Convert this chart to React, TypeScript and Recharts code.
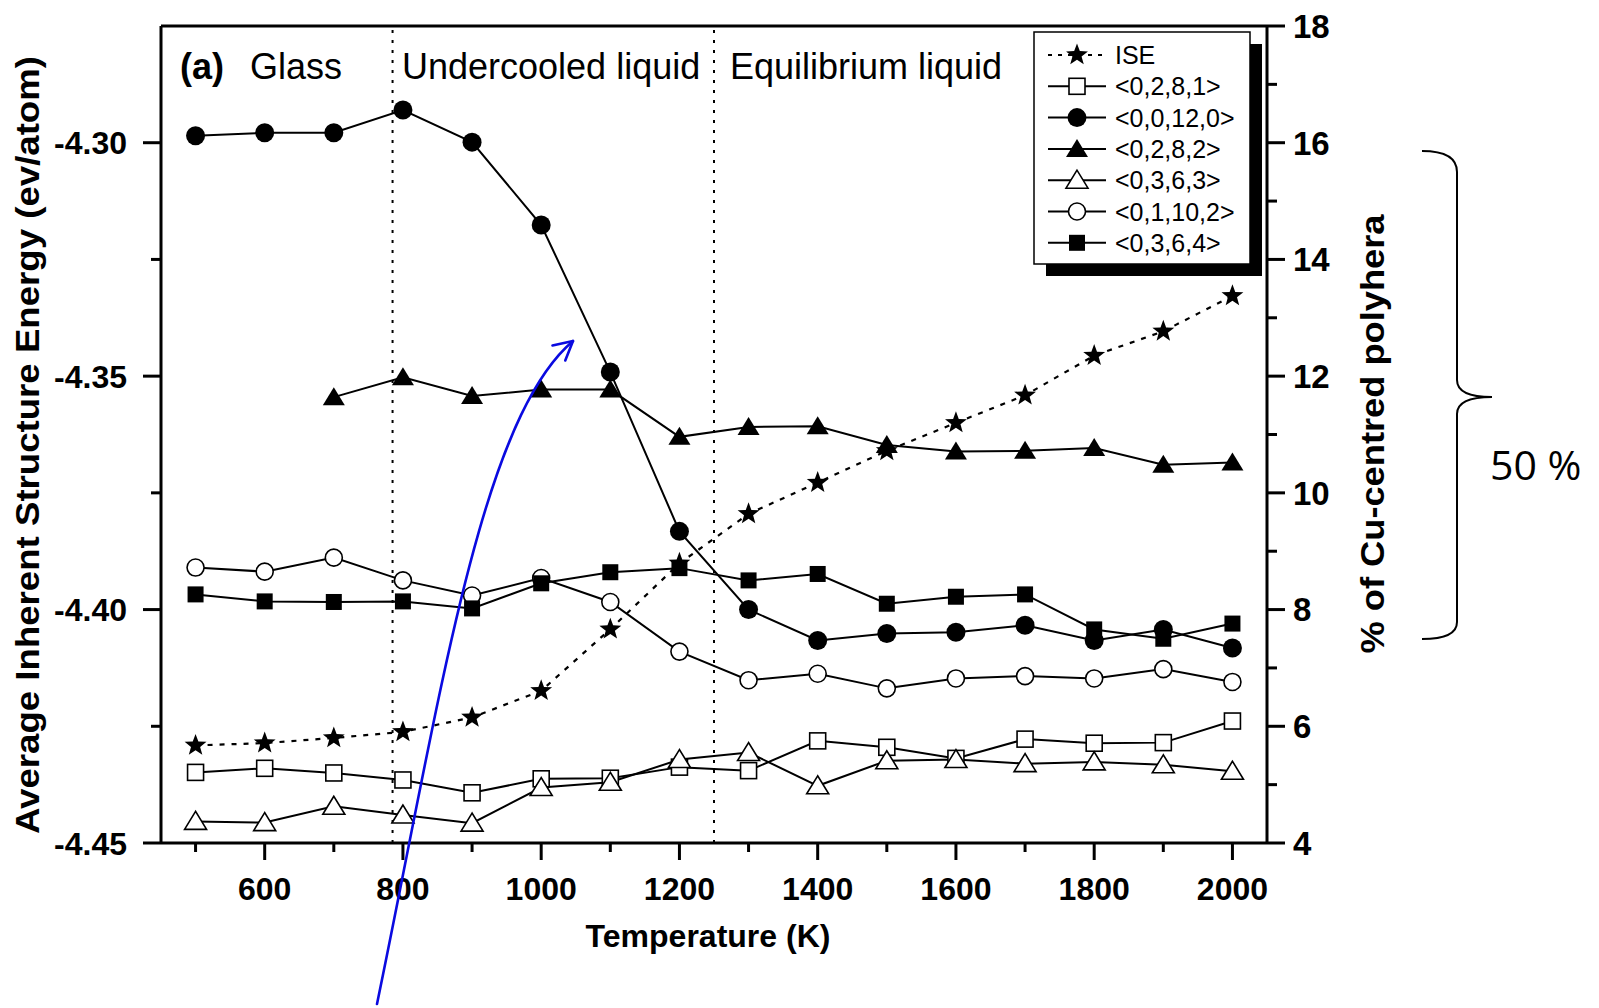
import React from 'react';
import { LineChart, Line, XAxis, YAxis, ReferenceLine } from 'recharts';

// ---- data -------------------------------------------------------------
const TEMPERATURES = [500, 600, 700, 800, 900, 1000, 1100, 1200, 1300, 1400, 1500, 1600, 1700, 1800, 1900, 2000];

// Average inherent structure energy (eV/atom), left axis
const ISE = [-4.4291, -4.4286, -4.4275, -4.4262, -4.4231, -4.4174, -4.4042, -4.3901, -4.3795, -4.3728, -4.366, -4.36, -4.3541, -4.3456, -4.3404, -4.3328];

// % of Cu-centred polyhedra, right axis
const P_0281 = [5.21, 5.28, 5.2, 5.08, 4.86, 5.1, 5.11, 5.3, 5.24, 5.75, 5.64, 5.45, 5.78, 5.71, 5.72, 6.09];
const P_00120 = [16.12, 16.17, 16.17, 16.56, 16.01, 14.59, 12.07, 9.34, 8.0, 7.47, 7.59, 7.61, 7.73, 7.47, 7.66, 7.34];
const P_0282 = [null, null, 11.64, 11.98, 11.66, 11.77, 11.77, 10.96, 11.13, 11.14, 10.82, 10.71, 10.72, 10.77, 10.48, 10.52];
const P_0363 = [4.37, 4.35, 4.63, 4.48, 4.34, 4.95, 5.04, 5.43, 5.55, 4.98, 5.41, 5.43, 5.36, 5.39, 5.34, 5.23];
const P_01102 = [8.72, 8.65, 8.89, 8.5, 8.24, 8.54, 8.13, 7.28, 6.79, 6.9, 6.65, 6.82, 6.86, 6.82, 6.98, 6.76];
const P_0364 = [8.26, 8.14, 8.13, 8.14, 8.02, 8.45, 8.64, 8.71, 8.5, 8.61, 8.1, 8.22, 8.26, 7.66, 7.5, 7.76];

// regime boundaries (K)
const GLASS_END = 785;
const LIQUID_START = 1250;

// axes
const X_DOMAIN: [number, number] = [450, 2050];
const X_TICKS = [500, 600, 700, 800, 900, 1000, 1100, 1200, 1300, 1400, 1500, 1600, 1700, 1800, 1900, 2000];
const X_LABELS = ['', '600', '', '800', '', '1000', '', '1200', '', '1400', '', '1600', '', '1800', '', '2000'];
const LEFT_DOMAIN: [number, number] = [-4.45, -4.275];
const LEFT_TICKS = [-4.45, -4.425, -4.4, -4.375, -4.35, -4.325, -4.3];
const LEFT_LABELS = ['-4.45', '', '-4.40', '', '-4.35', '', '-4.30'];
const RIGHT_DOMAIN: [number, number] = [4, 18];
const RIGHT_TICKS = [4, 5, 6, 7, 8, 9, 10, 11, 12, 13, 14, 15, 16, 17, 18];
const RIGHT_LABELS = ['4', '', '6', '', '8', '', '10', '', '12', '', '14', '', '16', '', '18'];

const SERIES = [
  { key: 'ise', name: 'ISE', marker: 'star', axis: 'l', dashed: true, values: ISE },
  { key: 'p0281', name: '<0,2,8,1>', marker: 'squareOpen', axis: 'r', dashed: false, values: P_0281 },
  { key: 'p00120', name: '<0,0,12,0>', marker: 'circleFilled', axis: 'r', dashed: false, values: P_00120 },
  { key: 'p0282', name: '<0,2,8,2>', marker: 'triFilled', axis: 'r', dashed: false, values: P_0282 },
  { key: 'p0363', name: '<0,3,6,3>', marker: 'triOpen', axis: 'r', dashed: false, values: P_0363 },
  { key: 'p01102', name: '<0,1,10,2>', marker: 'circleOpen', axis: 'r', dashed: false, values: P_01102 },
  { key: 'p0364', name: '<0,3,6,4>', marker: 'squareFilled', axis: 'r', dashed: false, values: P_0364 },
];

// ---- layout -----------------------------------------------------------
const W = 1599;
const H = 1008;
const FONT = '"Liberation Sans", Arial, Helvetica, sans-serif';

// ---- markers ----------------------------------------------------------
function starPoints(cx: number, cy: number, ro: number, ri: number) {
  const pts: string[] = [];
  for (let k = 0; k < 10; k++) {
    const a = (-90 + k * 36) * (Math.PI / 180);
    const r = k % 2 === 0 ? ro : ri;
    pts.push(`${(cx + r * Math.cos(a)).toFixed(2)},${(cy + r * Math.sin(a)).toFixed(2)}`);
  }
  return pts.join(' ');
}

function Marker({ kind, cx, cy }: { kind: string; cx: number; cy: number }) {
  const sw = 1.6;
  switch (kind) {
    case 'star':
      return <polygon points={starPoints(cx, cy, 11.5, 4.8)} fill="#000" />;
    case 'squareOpen':
      return <rect x={cx - 8} y={cy - 8} width={16} height={16} fill="#fff" stroke="#000" strokeWidth={sw} />;
    case 'circleFilled':
      return <circle cx={cx} cy={cy} r={9.5} fill="#000" />;
    case 'triFilled':
      return <polygon points={`${cx},${cy - 10} ${cx - 11},${cy + 8} ${cx + 11},${cy + 8}`} fill="#000" />;
    case 'triOpen':
      return (
        <polygon points={`${cx},${cy - 10} ${cx - 11},${cy + 8} ${cx + 11},${cy + 8}`} fill="#fff" stroke="#000" strokeWidth={sw} />
      );
    case 'circleOpen':
      return <circle cx={cx} cy={cy} r={8.5} fill="#fff" stroke="#000" strokeWidth={sw} />;
    case 'squareFilled':
    default:
      return <rect x={cx - 8} y={cy - 8} width={16} height={16} fill="#000" />;
  }
}

// ---- axis ticks (tick line + label drawn together) ---------------------
const renderLeftTick = (p: any) => {
  const i = LEFT_TICKS.indexOf(p.payload.value);
  const label = LEFT_LABELS[i] ?? '';
  const major = label !== '';
  return (
    <g key={`lt-${i}`}>
      <line x1={p.x - (major ? 18 : 10)} x2={p.x} y1={p.y} y2={p.y} stroke="#000" strokeWidth={3} />
      {major && (
        <text x={p.x - 34} y={p.y} dy="0.36em" textAnchor="end" fontSize={32} fontWeight={700} fontFamily={FONT} fill="#000">
          {label}
        </text>
      )}
    </g>
  );
};

const renderRightTick = (p: any) => {
  const i = RIGHT_TICKS.indexOf(p.payload.value);
  const label = RIGHT_LABELS[i] ?? '';
  const major = label !== '';
  return (
    <g key={`rt-${i}`}>
      <line x1={p.x} x2={p.x + (major ? 18 : 10)} y1={p.y} y2={p.y} stroke="#000" strokeWidth={3} />
      {major && (
        <text x={p.x + 26} y={p.y} dy="0.36em" textAnchor="start" fontSize={33} fontWeight={700} fontFamily={FONT} fill="#000">
          {label}
        </text>
      )}
    </g>
  );
};

const renderBottomTick = (p: any) => {
  const i = X_TICKS.indexOf(p.payload.value);
  const label = X_LABELS[i] ?? '';
  const major = label !== '';
  return (
    <g key={`bt-${i}`}>
      <line x1={p.x} x2={p.x} y1={p.y} y2={p.y + (major ? 17 : 9)} stroke="#000" strokeWidth={3} />
      {major && (
        <text x={p.x} y={p.y + 57} textAnchor="middle" fontSize={32} fontWeight={700} fontFamily={FONT} fill="#000">
          {label}
        </text>
      )}
    </g>
  );
};

// ---- legend -----------------------------------------------------------
function LegendBox() {
  const left = 1034;
  const top = 32;
  const w = 216;
  const h = 232;
  return (
    <g>
      <rect x={left + 12} y={top + 12} width={w} height={h} fill="#000" />
      <rect x={left} y={top} width={w} height={h} fill="#fff" stroke="#000" strokeWidth={1.5} />
      {SERIES.map((s, i) => {
        const cy = top + 23 + i * 31.3;
        return (
          <g key={s.key}>
            <line
              x1={left + 14}
              x2={left + 72}
              y1={cy}
              y2={cy}
              stroke="#000"
              strokeWidth={2}
              strokeDasharray={s.dashed ? '4 6' : undefined}
            />
            <Marker kind={s.marker} cx={left + 43} cy={cy} />
            <text x={left + 81} y={cy} dy="0.36em" fontSize={25} fontFamily={FONT} fill="#000">
              {s.name}
            </text>
          </g>
        );
      })}
    </g>
  );
}

// ---- blue arrow annotation --------------------------------------------
const ARROW_START = [377, 1004];
const ARROW_C1 = [440, 700];
const ARROW_C2 = [480, 420];
const ARROW_TIP = [573, 341];

function BlueArrow() {
  const theta = Math.atan2(ARROW_TIP[1] - ARROW_C2[1], ARROW_TIP[0] - ARROW_C2[0]);
  const len = 21;
  const spread = (28 * Math.PI) / 180;
  const a1 = [ARROW_TIP[0] - len * Math.cos(theta + spread), ARROW_TIP[1] - len * Math.sin(theta + spread)];
  const a2 = [ARROW_TIP[0] - len * Math.cos(theta - spread), ARROW_TIP[1] - len * Math.sin(theta - spread)];
  const blue = '#0a0ae0';
  return (
    <g fill="none" stroke={blue} strokeWidth={2.6} strokeLinecap="round" strokeLinejoin="round">
      <path
        d={`M${ARROW_START[0]},${ARROW_START[1]} C${ARROW_C1[0]},${ARROW_C1[1]} ${ARROW_C2[0]},${ARROW_C2[1]} ${ARROW_TIP[0]},${ARROW_TIP[1]}`}
      />
      <path d={`M${a1[0]},${a1[1]} L${ARROW_TIP[0]},${ARROW_TIP[1]} L${a2[0]},${a2[1]}`} />
    </g>
  );
}

// ---- right-hand brace with "50 %" ---------------------------------------
function Brace() {
  return (
    <g>
      <path
        d="M1422,151 Q1457,151 1457,172 L1457,380 Q1457,397 1492,397 Q1457,397 1457,414 L1457,622 Q1457,639 1422,639"
        fill="none"
        stroke="#000"
        strokeWidth={2}
      />
      <text x={1490} y={480} fontSize={41} fontFamily='"Open Sans", "Noto Sans", sans-serif' fill="#000">
        50 %
      </text>
    </g>
  );
}

export default function App() {
  const data = TEMPERATURES.map((T, i) => {
    const row: Record<string, number | null> = { T };
    SERIES.forEach((s) => {
      row[s.key] = s.values[i];
    });
    return row;
  });

  return (
    <div style={{ position: 'absolute', left: 0, top: 0, width: W, height: H, background: '#fff' }}>
      <LineChart width={W} height={H} data={data} margin={{ top: 26, right: 0, bottom: 0, left: 0 }}>
        <XAxis
          xAxisId="b"
          dataKey="T"
          type="number"
          domain={X_DOMAIN}
          ticks={X_TICKS}
          interval={0}
          height={165}
          tickSize={0}
          tickMargin={0}
          tickLine={false}
          axisLine={{ stroke: '#000', strokeWidth: 3 }}
          tick={renderBottomTick}
          allowDataOverflow
        />
        <YAxis
          yAxisId="l"
          orientation="left"
          width={161}
          type="number"
          domain={LEFT_DOMAIN}
          ticks={LEFT_TICKS}
          interval={0}
          tickSize={0}
          tickMargin={0}
          tickLine={false}
          axisLine={{ stroke: '#000', strokeWidth: 3 }}
          tick={renderLeftTick}
          allowDataOverflow
        />
        <YAxis
          yAxisId="r"
          orientation="right"
          width={332}
          type="number"
          domain={RIGHT_DOMAIN}
          ticks={RIGHT_TICKS}
          interval={0}
          tickSize={0}
          tickMargin={0}
          tickLine={false}
          axisLine={{ stroke: '#000', strokeWidth: 3 }}
          tick={renderRightTick}
          allowDataOverflow
        />
        {/* top frame edge */}
        <ReferenceLine xAxisId="b" yAxisId="l" y={LEFT_DOMAIN[1]} stroke="#000" strokeWidth={3} />
        {/* regime boundaries */}
        <ReferenceLine xAxisId="b" yAxisId="l" x={GLASS_END} stroke="#000" strokeWidth={2} strokeDasharray="3 7" />
        <ReferenceLine xAxisId="b" yAxisId="l" x={LIQUID_START} stroke="#000" strokeWidth={2} strokeDasharray="3 7" />
        {SERIES.map((s) => (
          <Line
            key={s.key}
            xAxisId="b"
            yAxisId={s.axis}
            dataKey={s.key}
            name={s.name}
            stroke="#000"
            strokeWidth={s.dashed ? 2.2 : 2}
            strokeDasharray={s.dashed ? '5 7' : undefined}
            activeDot={false}
            isAnimationActive={false}
            dot={(p: any) =>
              p.cy == null || p.value == null ? (
                <g key={`${s.key}-${p.index}`} />
              ) : (
                <Marker key={`${s.key}-${p.index}`} kind={s.marker} cx={p.cx} cy={p.cy} />
              )
            }
          />
        ))}
      </LineChart>

      <svg width={W} height={H} style={{ position: 'absolute', left: 0, top: 0, pointerEvents: 'none' }}>
        {/* regime labels */}
        <text x={180} y={79} fontSize={36} fontWeight={700} fontFamily={FONT} fill="#000">
          (a)
        </text>
        <text x={250} y={79} fontSize={36} fontFamily={FONT} fill="#000">
          Glass
        </text>
        <text x={402} y={79} fontSize={36} fontFamily={FONT} fill="#000">
          Undercooled liquid
        </text>
        <text x={730} y={79} fontSize={36} fontFamily={FONT} fill="#000">
          Equilibrium liquid
        </text>

        {/* axis titles (condensed to span their axes) */}
        <text
          x={27}
          y={445}
          dy="0.36em"
          transform="rotate(-90 27 445)"
          textAnchor="middle"
          fontSize={34}
          fontWeight={700}
          fontFamily={FONT}
          textLength={778}
          lengthAdjust="spacingAndGlyphs"
          fill="#000"
        >
          Average Inherent Structure Energy (ev/atom)
        </text>
        <text
          x={1372}
          y={434}
          dy="0.36em"
          transform="rotate(-90 1372 434)"
          textAnchor="middle"
          fontSize={34}
          fontWeight={700}
          fontFamily={FONT}
          textLength={439}
          lengthAdjust="spacingAndGlyphs"
          fill="#000"
        >
          % of Cu-centred polyhera
        </text>
        <text x={708} y={947} textAnchor="middle" fontSize={32} fontWeight={700} fontFamily={FONT} fill="#000">
          Temperature (K)
        </text>

        <LegendBox />
        <Brace />
        <BlueArrow />
      </svg>
    </div>
  );
}
